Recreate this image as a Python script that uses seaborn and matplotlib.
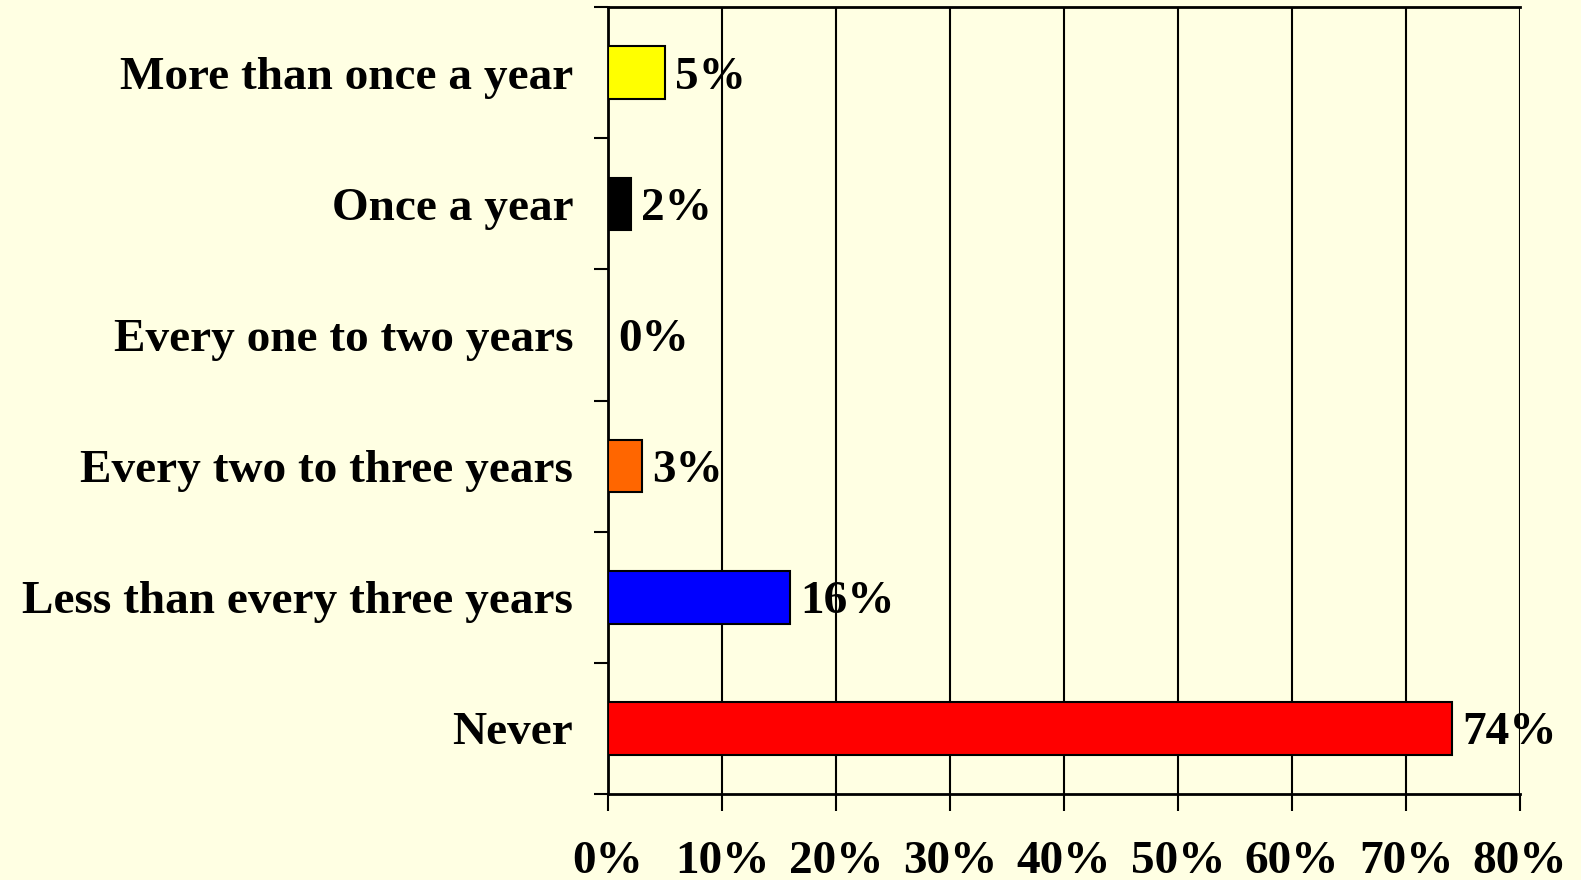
import matplotlib
matplotlib.use("Agg")
import matplotlib.pyplot as plt
import seaborn as sns
import pandas as pd
import numpy as np

categories = ["More than once a year", "Once a year", "Every one to two years",
              "Every two to three years", "Less than every three years", "Never"]
values = [5, 2, 0, 3, 16, 74]
colors = ["#FFFF00", "#000000", "#9999FF", "#FF6600", "#0000FF", "#FF0000"]
xticks = [0, 10, 20, 30, 40, 50, 60, 70, 80]

bg = "#FFFFE3"
sns.set_style("white")
plt.rcParams['font.family'] = ['Liberation Serif', 'DejaVu Serif']
plt.rcParams['font.weight'] = 'bold'
plt.rcParams['text.color'] = 'black'
plt.rcParams['xtick.color'] = 'black'
plt.rcParams['ytick.color'] = 'black'

df = pd.DataFrame({"cat": categories, "val": values})

fig = plt.figure(figsize=(15.81, 8.8), dpi=100, facecolor=bg)
ax = fig.add_axes([0.3846, 0.0977, 0.9614 - 0.3846, 0.992 - 0.0977])
ax.set_facecolor(bg)

sns.barplot(data=df, x="val", y="cat", hue="cat", palette=colors, legend=False,
            orient="h", width=0.4, saturation=1, edgecolor="black", linewidth=1.5,
            ax=ax, zorder=3)

fs = 34
ax.set_xlim(0, 80)
ax.set_ylim(5.5, -0.5)
ax.set_xticks(xticks)
ax.set_xticklabels([f"{t}%" for t in xticks], fontsize=fs, fontweight="bold")
ax.tick_params(axis="x", bottom=True, direction="out", length=12, width=1.5, pad=22)
ax.set_yticks(range(len(categories)))
ax.set_yticklabels(categories, fontsize=fs, fontweight="bold")
ax.tick_params(axis="y", which="major", left=True, length=0, pad=25)
ax.set_yticks(np.arange(-0.5, 6, 1), minor=True)
ax.tick_params(axis="y", which="minor", left=True, direction="out", length=10, width=1.5)
ax.set_xlabel("")
ax.set_ylabel("")

ax.grid(axis="x", color="black", linewidth=1.5, zorder=0)
ax.set_axisbelow(True)
for side in ["left", "bottom", "top"]:
    ax.spines[side].set_visible(True)
    ax.spines[side].set_color("black")
    ax.spines[side].set_linewidth(2)
ax.spines["right"].set_visible(False)

for i, v in enumerate(values):
    ax.text(v + 0.9, i, f"{v}%", va="center_baseline", ha="left", fontsize=fs,
            fontweight="bold", zorder=5)

fig.savefig("out.png", dpi=100, facecolor=bg)
